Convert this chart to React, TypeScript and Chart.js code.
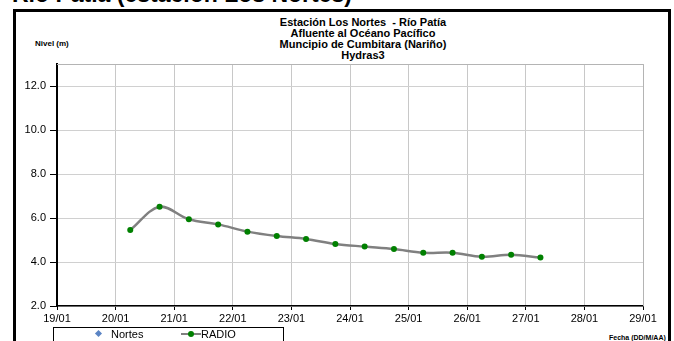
import React, { useEffect, useRef } from "react";
import { Chart, registerables } from "chart.js";

Chart.register(...registerables);

// ---- data ----
const heading = "Río Patía (estación Los Nortes)";
const titleLines = [
  "Estación Los Nortes  - Río Patía",
  "Afluente al Océano Pacífico",
  "Muncipio de Cumbitara (Nariño)",
  "Hydras3",
];
const yAxisTitle = "Nivel (m)";
const xAxisTitle = "Fecha (DD/M/AA)";
const xTickLabels = ["19/01", "20/01", "21/01", "22/01", "23/01", "24/01", "25/01", "26/01", "27/01", "28/01", "29/01"];
// time as day of January (decimal: .25 = 06:00, .75 = 18:00)
const radioDays = [20.25, 20.75, 21.25, 21.75, 22.25, 22.75, 23.25, 23.75, 24.25, 24.75, 25.25, 25.75, 26.25, 26.75, 27.25];
const radioLevels = [5.45, 6.51, 5.94, 5.71, 5.38, 5.18, 5.05, 4.82, 4.7, 4.59, 4.42, 4.42, 4.24, 4.33, 4.2];
const nortesDays: number[] = [];
const nortesLevels: number[] = [];
const seriesNames = ["Nortes", "RADIO"];

const FONT = "Arial, 'Liberation Sans', sans-serif";

export default function App() {
  const canvasRef = useRef<HTMLCanvasElement | null>(null);

  useEffect(() => {
    if (!canvasRef.current) return;
    const plotFrame = {
      id: "plotFrame",
      beforeDatasetsDraw(chart: any) {
        const { ctx, chartArea } = chart;
        ctx.save();
        ctx.strokeStyle = "#b4b4b4";
        ctx.lineWidth = 1;
        ctx.beginPath();
        ctx.moveTo(chartArea.left, chartArea.top + 0.5);
        ctx.lineTo(chartArea.right + 0.5, chartArea.top + 0.5);
        ctx.lineTo(chartArea.right + 0.5, chartArea.bottom);
        ctx.stroke();
        ctx.restore();
      },
    };
    const chart = new Chart(canvasRef.current, {
      type: "line",
      data: {
        datasets: [
          {
            label: seriesNames[0],
            data: nortesDays.map((d, i) => ({ x: d, y: nortesLevels[i] })),
            borderColor: "#5b84c4",
            backgroundColor: "#5b84c4",
            pointStyle: "rectRot",
            showLine: false,
          },
          {
            label: seriesNames[1],
            data: radioDays.map((d, i) => ({ x: d, y: radioLevels[i] })),
            borderColor: "#808080",
            borderWidth: 2.5,
            tension: 0.35,
            pointRadius: 3,
            pointBackgroundColor: "#008000",
            pointBorderColor: "#008000",
            pointBorderWidth: 0,
          },
        ],
      },
      options: {
        responsive: false,
        animation: false,
        layout: { padding: { top: 64, right: 31, left: 0, bottom: 0 } },
        plugins: {
          legend: { display: false },
          title: { display: false },
          tooltip: { enabled: false },
        },
        scales: {
          x: {
            type: "linear",
            min: 19,
            max: 29,
            afterFit(scale: any) {
              scale.height = 35;
            },
            ticks: {
              stepSize: 1,
              autoSkip: false,
              maxRotation: 0,
              padding: 2,
              color: "#000",
              font: { family: FONT, size: 11 },
              callback: (v: any) => xTickLabels[Math.round(Number(v) - 19)] ?? "",
            },
            grid: { color: "#c8c8c8", tickColor: "#000", tickLength: 4, lineWidth: 1 },
            border: { color: "#000", width: 1.5 },
          },
          y: {
            min: 2,
            max: 13,
            afterFit(scale: any) {
              scale.width = 57;
            },
            ticks: {
              stepSize: 2,
              includeBounds: false,
              padding: 4,
              color: "#000",
              font: { family: FONT, size: 11 },
              callback: (v: any) => Number(v).toFixed(1),
            },
            grid: { color: "#d0d0d0", tickColor: "#000", tickLength: 7, lineWidth: 1 },
            border: { color: "#000", width: 2 },
          },
        },
      },
      plugins: [plotFrame],
    } as any);
    return () => chart.destroy();
  }, []);

  return (
    <div
      style={{
        position: "fixed",
        left: 0,
        top: 0,
        width: 674,
        height: 341,
        overflow: "hidden",
        background: "#fff",
        fontFamily: FONT,
      }}
    >
      <div
        style={{
          position: "absolute",
          left: 12,
          top: -17,
          fontSize: 23,
          lineHeight: "23px",
          fontWeight: "bold",
          whiteSpace: "nowrap",
          color: "#000",
        }}
      >
        {heading}
      </div>
      <div
        style={{
          position: "absolute",
          left: 13,
          top: 9,
          width: 652,
          height: 400,
          border: "3px solid #000",
        }}
      />
      <div
        style={{
          position: "absolute",
          left: 213,
          width: 300,
          top: 17,
          textAlign: "center",
          fontSize: 11,
          lineHeight: "11px",
          fontWeight: "bold",
          color: "#000",
        }}
      >
        {titleLines.map((t, i) => (
          <div key={i} style={{ whiteSpace: "pre" }}>
            {t}
          </div>
        ))}
      </div>
      <div
        style={{
          position: "absolute",
          left: 35,
          top: 39,
          fontSize: 8,
          lineHeight: "10px",
          fontWeight: "bold",
          whiteSpace: "nowrap",
        }}
      >
        {yAxisTitle}
      </div>
      <div
        style={{
          position: "absolute",
          left: 609,
          top: 333,
          fontSize: 7,
          lineHeight: "10px",
          fontWeight: "bold",
          whiteSpace: "nowrap",
        }}
      >
        {xAxisTitle}
      </div>
      <canvas
        ref={canvasRef}
        width={674}
        height={341}
        style={{ position: "absolute", left: 0, top: 0, width: 674, height: 341 }}
      />
      <div
        style={{
          position: "absolute",
          left: 53,
          top: 327,
          width: 229,
          height: 30,
          border: "1px solid #000",
          background: "transparent",
          fontSize: 11,
          lineHeight: "12px",
        }}
      >
        <span
          style={{
            position: "absolute",
            left: 42,
            top: 3,
            width: 5,
            height: 5,
            background: "#5b84c4",
            transform: "rotate(45deg)",
          }}
        />
        <span style={{ position: "absolute", left: 57, top: 0, whiteSpace: "nowrap" }}>{seriesNames[0]}</span>
        <span
          style={{
            position: "absolute",
            left: 127,
            top: 5,
            width: 20,
            height: 2,
            background: "#808080",
          }}
        />
        <span
          style={{
            position: "absolute",
            left: 134,
            top: 3,
            width: 6,
            height: 6,
            borderRadius: 3,
            background: "#008000",
          }}
        />
        <span style={{ position: "absolute", left: 147, top: 0, whiteSpace: "nowrap" }}>{seriesNames[1]}</span>
      </div>
    </div>
  );
}
